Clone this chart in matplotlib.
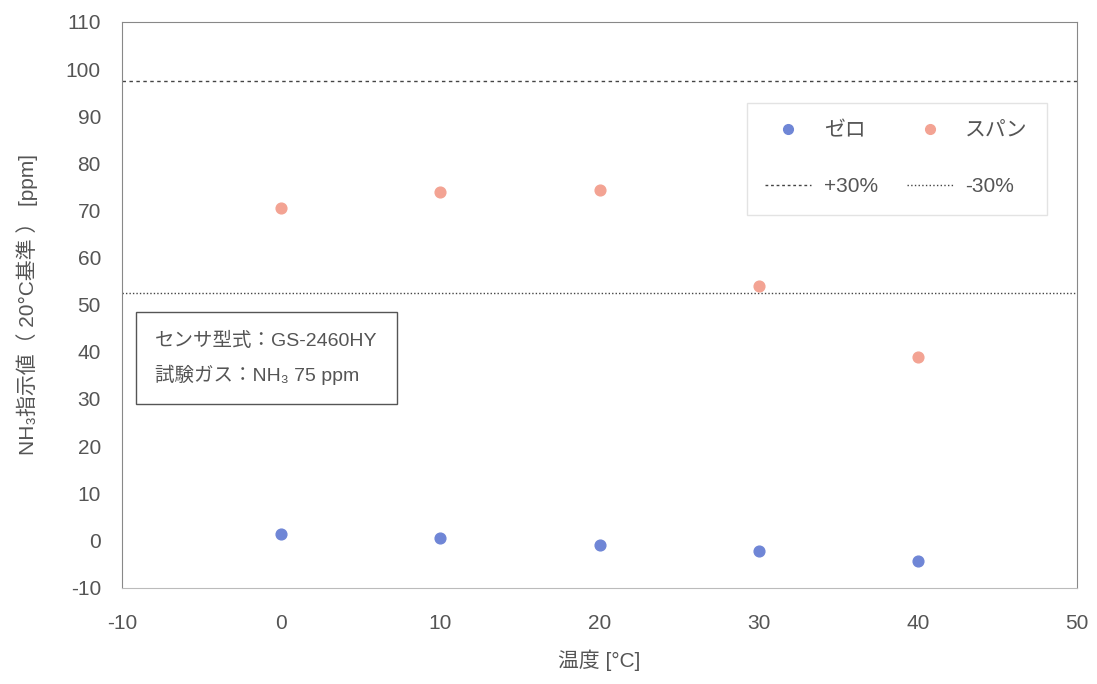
import matplotlib
matplotlib.use('Agg')
import matplotlib.pyplot as plt
from matplotlib.lines import Line2D

plt.rcParams['font.family'] = ['Liberation Sans', 'Noto Sans CJK JP', 'DejaVu Sans']
plt.rcParams['axes.unicode_minus'] = False

# data
temps = [0, 10, 20, 30, 40]
zero_vals = [1.3, 0.5, -1.0, -2.2, -4.3]
span_vals = [70.6, 73.9, 74.3, 54.0, 38.9]
upper_limit = 97.5   # +30% of 75 ppm
lower_limit = 52.5   # -30% of 75 ppm
x_ticks = [-10, 0, 10, 20, 30, 40, 50]
y_ticks = [-10, 0, 10, 20, 30, 40, 50, 60, 70, 80, 90, 100, 110]

text_col = '#555555'
blue = '#6f86d6'
salmon = '#f3a393'

fig = plt.figure(figsize=(10.97, 6.84), dpi=100)
ax = fig.add_axes([0.111, 0.141, 0.871, 0.827])

ax.scatter(temps, zero_vals, s=60, color=blue, zorder=3)
ax.scatter(temps, span_vals, s=60, color=salmon, zorder=3)
ax.axhline(upper_limit, color='#444444', lw=1.0, ls=(0, (2.5, 2.5)))
ax.axhline(lower_limit, color='#444444', lw=1.0, ls=(0, (1, 1.5)))

ax.set_xlim(-10, 50)
ax.set_ylim(-10, 110)
ax.set_xticks(x_ticks)
ax.set_yticks(y_ticks)
ax.tick_params(length=0, labelsize=15, labelcolor=text_col)
ax.tick_params(axis='x', pad=19)
ax.tick_params(axis='y', pad=15)
for s in ax.spines.values():
    s.set_color('#888888')
    s.set_linewidth(0.8)
ax.spines['bottom'].set_color('#bbbbbb')

ax.set_xlabel('温度 [°C]', fontsize=15, color=text_col, labelpad=12)
ax.set_ylabel('NH₃指示値（ 20°C基準 ） [ppm]', fontsize=15, color=text_col, labelpad=20)

handles = [
    Line2D([], [], ls='none', marker='o', ms=7, color=blue),
    Line2D([], [], ls='--', lw=1.0, color='#444444', dashes=(2, 2)),
    Line2D([], [], ls='none', marker='o', ms=7, color=salmon),
    Line2D([], [], ls=':', lw=1.0, color='#444444'),
]
labels = ['ゼロ', '+30%', 'スパン', '-30%']
leg = ax.legend(handles, labels, ncol=2, loc='upper right',
                bbox_to_anchor=(0.979, 0.875), fontsize=15,
                frameon=True, fancybox=False, edgecolor='#dddddd',
                labelspacing=1.75, columnspacing=1.4, handlelength=2.2,
                handletextpad=0.6, borderpad=0.9, labelcolor=text_col)

ax.text(-7.9, 44.3, 'センサ型式：GS-2460HY\n試験ガス：NH₃ 75 ppm',
        fontsize=14, color=text_col, va='top', ha='left', linespacing=1.9,
        bbox=dict(boxstyle='square,pad=1.0', fc='white', ec='#555555', lw=1.0))

fig.savefig('out.png', dpi=100)
